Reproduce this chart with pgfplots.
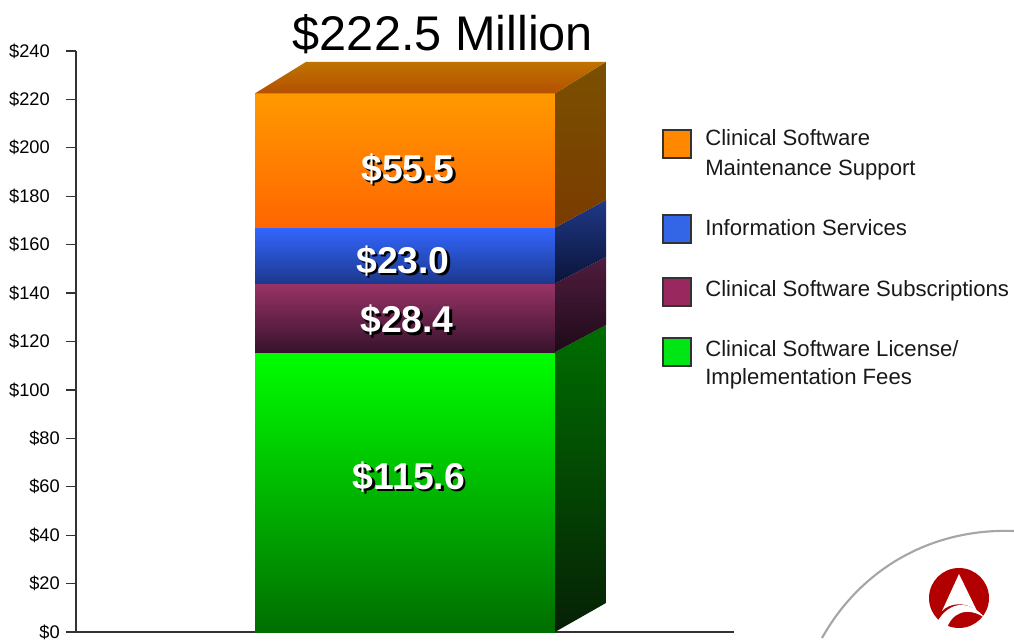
\documentclass[border=0pt]{standalone}
\usepackage{pgfplots}
\pgfplotsset{compat=1.18}
\usepackage{fontspec}
\setmainfont{Liberation Sans}
\definecolor{axisc}{HTML}{333333}
\newcommand{\shadowlabel}[3]{%
  \node[text=black,font=\fontsize{28}{30}\selectfont\bfseries,anchor=center] at (axis cs:#1+2.2,#2-0.9) {\$#3};
  \node[text=white,font=\fontsize{28}{30}\selectfont\bfseries,anchor=center] at (axis cs:#1,#2) {\$#3};}
\begin{document}
\begin{tikzpicture}[x=0.75pt,y=-0.75pt,shift={(0,-640)}]
\path[use as bounding box] (0,0) rectangle (1014,640);
\begin{axis}[
  at={(57pt,-474pt)},anchor=origin,
  scale only axis,width=493.5pt,height=435.75pt,
  xmin=76,xmax=734,ymin=0,ymax=240,
  clip=false,
  axis x line=bottom,axis y line=left,
  axis line style={axisc,line width=0.9pt,-},
  xtick=\empty,
  ytick={0,20,40,60,80,100,120,140,160,180,200,220,240},
  yticklabels={\$0,\$20,\$40,\$60,\$80,\$100\kern7.5pt,\$120\kern7.5pt,\$140\kern7.5pt,\$160\kern7.5pt,\$180\kern7.5pt,\$200\kern7.5pt,\$220\kern7.5pt,\$240\kern7.5pt},
  tick style={axisc,line width=0.9pt},
  major tick length=7.5pt,
  tick align=outside,
  y tick label style={font=\fontsize{13.7}{15}\selectfont,text=black,inner xsep=0pt,xshift=-4.5pt},
]
% front faces
\addplot[draw=none,shade,top color={rgb,255:red,0;green,255;blue,0},bottom color={rgb,255:red,0;green,110;blue,0},forget plot]
  coordinates {(255,0)(555,0)(555,115.6)(255,115.6)} -- cycle;
\addplot[draw=none,shade,top color={rgb,255:red,153;green,51;blue,102},bottom color={rgb,255:red,55;green,18;blue,45},forget plot]
  coordinates {(255,115.6)(555,115.6)(555,144)(255,144)} -- cycle;
\addplot[draw=none,shade,top color={rgb,255:red,51;green,102;blue,255},bottom color={rgb,255:red,28;green,56;blue,140},forget plot]
  coordinates {(255,144)(555,144)(555,167)(255,167)} -- cycle;
\addplot[draw=none,shade,top color={rgb,255:red,255;green,153;blue,0},bottom color={rgb,255:red,255;green,102;blue,0},forget plot]
  coordinates {(255,167)(555,167)(555,222.5)(255,222.5)} -- cycle;
% side faces
\addplot[draw=none,shade,top color={rgb,255:red,0;green,110;blue,0},bottom color={rgb,255:red,6;green,32;blue,6},forget plot]
  coordinates {(555,0)(606,12)(606,126.8)(555,115.6)} -- cycle;
\addplot[draw=none,shade,top color={rgb,255:red,80;green,28;blue,62},bottom color={rgb,255:red,30;green,10;blue,24},forget plot]
  coordinates {(555,115.6)(606,126.8)(606,154.9)(555,144)} -- cycle;
\addplot[draw=none,shade,top color={rgb,255:red,32;green,56;blue,135},bottom color={rgb,255:red,10;green,20;blue,56},forget plot]
  coordinates {(555,144)(606,154.9)(606,178.5)(555,167)} -- cycle;
\addplot[draw=none,shade,top color={rgb,255:red,122;green,80;blue,0},bottom color={rgb,255:red,122;green,60;blue,0},forget plot]
  coordinates {(555,167)(606,178.5)(606,235.5)(555,222.5)} -- cycle;
% top face
\addplot[draw=none,shade,top color={rgb,255:red,190;green,115;blue,0},bottom color={rgb,255:red,180;green,80;blue,0},forget plot]
  coordinates {(255,222.5)(555,222.5)(606,235.5)(306,235.5)} -- cycle;
% value labels
\shadowlabel{408}{191.2}{55.5}
\shadowlabel{403}{153.2}{23.0}
\shadowlabel{407}{128.7}{28.4}
\shadowlabel{409}{64.2}{115.6}
\end{axis}
% x axis stub left of the y axis
\draw[axisc,line width=0.9pt] (66,632) -- (76,632);
% title
\node[anchor=center,font=\fontsize{36.5}{40}\selectfont,text=black] at (443,34) {\$222.5 Million};
% legend
\foreach \yy/\c in {144/{rgb,255:red,255;green,136;blue,0},229/{rgb,255:red,51;green,102;blue,230},292/{rgb,255:red,153;green,40;blue,95},352/{rgb,255:red,0;green,230;blue,20}}{
  \draw[fill={\c},draw=black!80,line width=0.9pt] (663,\yy-14) rectangle (691,\yy+14);
}
\tikzset{lg/.style={anchor=base west,inner sep=0pt,font=\fontsize{16.6}{20}\selectfont,text=black!90}}
\node[lg] at (705,146) {Clinical Software};
\node[lg] at (705,176) {Maintenance Support};
\node[lg] at (705,236) {Information Services};
\node[lg] at (705,296) {Clinical Software Subscriptions};
\node[lg] at (705,356) {Clinical Software License/};
\node[lg] at (705,384) {Implementation Fees};
% logo
\draw[black!35,line width=1.6pt] (822,638) .. controls (860,570) and (930,528) .. (1014,531);
\fill[red!70!black] (959,598) circle[radius=30];
\fill[white] (959,574) -- (942,611) .. controls (950,602) and (968,602) .. (977,611) -- cycle;
\fill[white] (937,622) .. controls (950,600) and (970,600) .. (985,618) .. controls (968,606) and (950,612) .. (946,632) -- (937,630) -- cycle;
\fill[white] (927,612) -- (942,630) -- (952,630) -- (946,640) -- (975,640) -- (985,622) -- (995,612) -- (995,645) -- (927,645) -- cycle;
\end{tikzpicture}
\end{document}
